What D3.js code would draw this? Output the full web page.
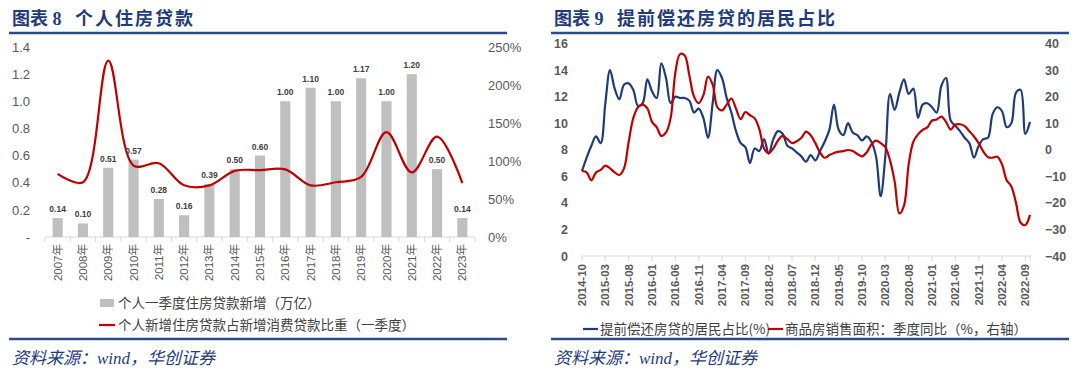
<!DOCTYPE html>
<html><head><meta charset="utf-8">
<script src="https://cdn.jsdelivr.net/npm/d3@7/dist/d3.min.js"></script>
<style>body{margin:0;background:#fff}svg{display:block}</style>
</head><body><svg id="c" width="1080" height="375"></svg>
<script>
// ---------- Left chart data ----------
const years = ["2007年","2008年","2009年","2010年","2011年","2012年","2013年","2014年","2015年","2016年","2017年","2018年","2019年","2020年","2021年","2022年","2023年"];
const loanQ1 = [0.14,0.10,0.51,0.57,0.28,0.16,0.39,0.50,0.60,1.00,1.10,1.00,1.17,1.00,1.20,0.50,0.14];
const loanShare = [0.83,0.72,2.32,0.94,0.97,0.68,0.68,0.87,0.88,0.89,0.68,0.72,0.79,1.38,0.85,1.32,0.71];
const leftTicksL = [0,0.2,0.4,0.6,0.8,1.0,1.2,1.4];
const leftTicksR = [0,0.5,1.0,1.5,2.0,2.5];

// ---------- Right chart data ----------
const prepayShare = [6.4,7.4,8.3,9.0,8.5,11.5,14.0,12.6,11.8,12.9,13.0,12.5,11.3,11.5,13.3,12.4,11.9,14.5,13.4,11.5,
 12.0,11.9,11.9,11.7,10.8,11.1,10.4,8.9,11.5,14.0,13.4,11.9,10.8,9.4,8.5,8.2,7.0,8.1,7.9,8.8,
 7.7,8.8,9.4,9.2,8.3,8.1,7.8,7.5,7.1,7.6,7.2,7.9,8.6,9.5,11.4,9.5,9.1,10.0,9.3,9.1,
 8.7,9.0,8.6,7.5,4.5,7.5,12.2,11.0,12.3,13.3,12.2,12.6,10.4,11.4,11.5,11.2,10.8,12.8,13.4,10.2,
 9.8,9.4,8.9,8.5,7.4,8.3,8.8,8.9,10.7,11.2,10.9,9.7,10.0,12.3,12.5,9.2,10.1];
const salesYoY = [-8.0,-8.5,-11.5,-8.5,-7.6,-6.0,-7.0,-8.5,-9.5,-7.0,3.0,12.0,16.0,17.0,15.6,10.5,8.5,5.2,6.5,12.0,
 29.0,36.0,35.5,28.0,20.0,17.5,20.5,27.5,24.5,16.0,14.8,17.0,19.3,15.5,11.5,14.2,13.0,11.8,7.8,0.5,
 -1.3,0.5,3.5,5.2,4.0,2.5,3.2,4.5,6.8,5.5,2.5,-1.0,-3.0,-2.0,-1.2,-0.7,-0.5,-0.1,-0.5,-1.6,
 -2.5,-1.0,2.0,3.4,2.5,1.0,-4.0,-12.0,-24.0,-21.0,-5.5,3.0,5.8,7.5,8.4,11.0,11.4,12.5,10.5,7.6,
 9.5,9.6,8.9,7.0,5.0,2.5,-0.7,-2.8,-3.0,-2.6,-5.5,-11.5,-13.8,-20.0,-27.5,-28.3,-24.5];
const monthTicks = ["2014-10","2015-03","2015-08","2016-01","2016-06","2016-11","2017-04","2017-09","2018-02","2018-07","2018-12","2019-05","2019-10","2020-03","2020-08","2021-01","2021-06","2021-11","2022-04","2022-09"];
const rightTicksL = [0,2,4,6,8,10,12,14,16];
const rightTicksR = [-40,-30,-20,-10,0,10,20,30,40];
const months = d3.timeMonth.range(new Date(2014,9,1), new Date(2022,10,1)).map(d3.timeFormat("%Y-%m"));

const svg = d3.select("#c");
const NAVY = "#1F3B7A", RED = "#C00000", GREY_TXT = "#595959", AXIS = "#D9D9D9";
const LATIN = "'Liberation Sans','Noto Sans CJK SC',sans-serif";
const CJK = "'Noto Sans CJK SC',sans-serif";

// ---------- Frame: titles, rules, sources ----------
function frame(x0, x1, num, title, titleX) {
  svg.append("text").attr("x", x0 + 3).attr("y", 25).attr("fill", NAVY)
    .attr("font-family", "'Liberation Serif','Noto Sans CJK SC',serif").attr("font-weight", 700)
    .attr("font-size", 18).text("图表 " + num);
  svg.append("text").attr("x", titleX).attr("y", 25).attr("fill", NAVY)
    .attr("font-family", CJK).attr("font-weight", 700).attr("font-size", 18).attr("letter-spacing", 2)
    .text(title);
  svg.append("line").attr("x1", x0).attr("x2", x1).attr("y1", 33).attr("y2", 33)
    .attr("stroke", "#2B4A8B").attr("stroke-width", 2.5);
  svg.append("line").attr("x1", x0).attr("x2", x1).attr("y1", 339).attr("y2", 339)
    .attr("stroke", "#2B4A8B").attr("stroke-width", 2.5);
  svg.append("text").attr("x", x0 + 3).attr("y", 364).attr("fill", NAVY)
    .attr("font-family", "'Liberation Serif','Noto Sans CJK SC',serif").attr("font-style", "italic")
    .attr("font-size", 17).text("资料来源：wind，华创证券");
}
frame(9, 507, "8", "个人住房贷款", 75);
frame(551, 1069, "9", "提前偿还房贷的居民占比", 617);

// ---------- Left chart ----------
{
  const x = d3.scaleBand(years, [45, 475]).paddingInner(0.6).paddingOuter(0.3);
  const yL = d3.scaleLinear([0, 1.4], [237, 47]);
  const yR = d3.scaleLinear([0, 2.5], [237, 47]);
  const g = svg.append("g");
  g.append("line").attr("x1", 45).attr("x2", 475).attr("y1", yL(0)).attr("y2", yL(0)).attr("stroke", AXIS);
  const step = x.step();
  g.selectAll(".tk").data(d3.range(years.length + 1)).join("line")
    .attr("x1", i => 45 + i * step).attr("x2", i => 45 + i * step)
    .attr("y1", yL(0)).attr("y2", yL(0) + 5).attr("stroke", AXIS);
  g.selectAll(".bar").data(years).join("rect")
    .attr("x", d => x(d)).attr("width", x.bandwidth())
    .attr("y", (d, i) => yL(loanQ1[i])).attr("height", (d, i) => yL(0) - yL(loanQ1[i]))
    .attr("fill", "#BFBFBF");
  const line = d3.line().x((d, i) => x(years[i]) + x.bandwidth() / 2).y(d => yR(d)).curve(d3.curveCatmullRom.alpha(0.5));
  g.append("path").attr("d", line(loanShare)).attr("fill", "none").attr("stroke", RED).attr("stroke-width", 2.2);
  g.selectAll(".lbl").data(years).join("text")
    .attr("x", d => x(d) + x.bandwidth() / 2).attr("y", (d, i) => yL(loanQ1[i]) - 6)
    .attr("text-anchor", "middle").attr("font-family", LATIN).attr("font-size", 8.5).attr("font-weight", 700)
    .attr("fill", "#404040").text((d, i) => d3.format(".2f")(loanQ1[i]));
  const axL = d3.axisLeft(yL).tickValues(leftTicksL).tickSize(0).tickPadding(15)
    .tickFormat(d => d === 0 ? "-" : d3.format(".1f")(d));
  const gl = g.append("g").attr("transform", "translate(45,0)").call(axL);
  const axR = d3.axisRight(yR).tickValues(leftTicksR).tickSize(0).tickPadding(13).tickFormat(d3.format(".0%"));
  const gr = g.append("g").attr("transform", "translate(475,0)").call(axR);
  [gl, gr].forEach(a => { a.select(".domain").remove(); a.selectAll("text").attr("font-family", LATIN).attr("font-size", 13).attr("fill", GREY_TXT); });
  g.selectAll(".xl").data(years).join("text")
    .attr("transform", d => `translate(${x(d) + x.bandwidth() / 2},244) rotate(-90)`)
    .attr("text-anchor", "end").attr("dy", "0.35em")
    .attr("font-family", LATIN).attr("font-size", 11.5).attr("fill", GREY_TXT).text(d => d);
  g.append("rect").attr("x", 100).attr("y", 299).attr("width", 14).attr("height", 8).attr("fill", "#BFBFBF");
  g.append("text").attr("x", 118).attr("y", 303).attr("dy", "0.35em").attr("font-family", CJK).attr("font-size", 13.5)
    .attr("fill", "#404040").text("个人一季度住房贷款新增（万亿）");
  g.append("line").attr("x1", 99).attr("x2", 115).attr("y1", 325).attr("y2", 325).attr("stroke", RED).attr("stroke-width", 2.2);
  g.append("text").attr("x", 118).attr("y", 325).attr("dy", "0.35em").attr("font-family", CJK).attr("font-size", 13.5)
    .attr("fill", "#404040").text("个人新增住房贷款占新增消费贷款比重（一季度）");
}

// ---------- Right chart ----------
{
  const x = d3.scalePoint(months, [582, 1030]);
  const yL = d3.scaleLinear([0, 16], [256, 43.5]);
  const yR = d3.scaleLinear([-40, 40], [256, 43.5]);
  const g = svg.append("g");
  g.append("line").attr("x1", 582).attr("x2", 1031).attr("y1", 256).attr("y2", 256).attr("stroke", AXIS);
  g.selectAll(".tk").data(monthTicks).join("line")
    .attr("x1", d => x(d)).attr("x2", d => x(d)).attr("y1", 256).attr("y2", 261).attr("stroke", AXIS);
  g.append("line").attr("x1", 1030).attr("x2", 1030).attr("y1", 256).attr("y2", 261).attr("stroke", AXIS);
  const lb = d3.line().x((d, i) => x(months[i])).y(d => yL(d)).curve(d3.curveCatmullRom.alpha(0.5));
  const lr = d3.line().x((d, i) => x(months[i])).y(d => yR(d)).curve(d3.curveCatmullRom.alpha(0.5));
  g.append("path").attr("d", lb(prepayShare)).attr("fill", "none").attr("stroke", NAVY).attr("stroke-width", 2.2);
  g.append("path").attr("d", lr(salesYoY)).attr("fill", "none").attr("stroke", RED).attr("stroke-width", 2.2);
  const axL = d3.axisLeft(yL).tickValues(rightTicksL).tickSize(0).tickPadding(14).tickFormat(d3.format("d"));
  const gl = g.append("g").attr("transform", "translate(582,0)").call(axL);
  const axR = d3.axisRight(yR).tickValues(rightTicksR).tickSize(0).tickPadding(13).tickFormat(d3.format("d"));
  const gr = g.append("g").attr("transform", "translate(1032,0)").call(axR);
  [gl, gr].forEach(a => { a.select(".domain").remove(); a.selectAll("text").attr("font-family", LATIN).attr("font-size", 12.5).attr("font-weight", 700).attr("fill", GREY_TXT); });
  g.selectAll(".xl").data(monthTicks).join("text")
    .attr("transform", d => `translate(${x(d)},264) rotate(-90)`)
    .attr("text-anchor", "end").attr("dy", "0.35em")
    .attr("font-family", LATIN).attr("font-size", 11.5).attr("font-weight", 700).attr("fill", GREY_TXT).text(d => d);
  g.append("line").attr("x1", 583).attr("x2", 598).attr("y1", 329).attr("y2", 329).attr("stroke", NAVY).attr("stroke-width", 2.2);
  g.append("text").attr("x", 600).attr("y", 329).attr("dy", "0.35em").attr("font-family", CJK).attr("font-size", 13.5)
    .attr("fill", "#404040").text("提前偿还房贷的居民占比(%)");
  g.append("line").attr("x1", 768).attr("x2", 783).attr("y1", 329).attr("y2", 329).attr("stroke", RED).attr("stroke-width", 2.2);
  g.append("text").attr("x", 785).attr("y", 329).attr("dy", "0.35em").attr("font-family", CJK).attr("font-size", 13.5)
    .attr("fill", "#404040").text("商品房销售面积：季度同比（%，右轴）");
}
</script></body></html>
